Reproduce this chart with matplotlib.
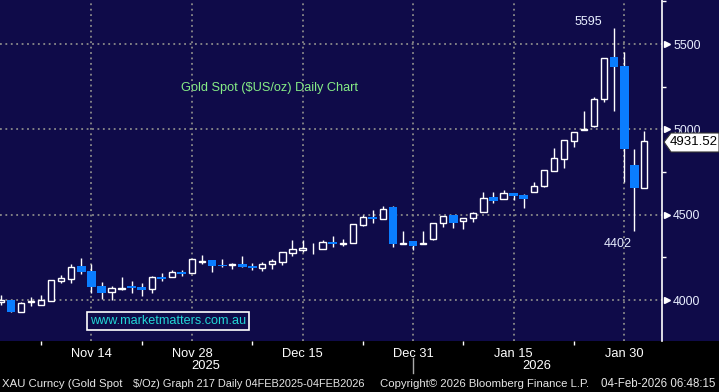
import numpy as np
import pandas as pd
import matplotlib
matplotlib.use("Agg")
import matplotlib.pyplot as plt
import matplotlib.transforms as mtransforms
from matplotlib.patches import Rectangle, Polygon

plt.rcParams['font.family'] = ['Liberation Sans', 'DejaVu Sans']

# trading days shown (gold spot, no bar on Christmas / New Year's Day)
dates = pd.bdate_range("2025-11-03", "2026-02-03")
dates = dates[~dates.isin(pd.to_datetime(["2025-12-25", "2026-01-01"]))]

opens = [3988, 4000, 3930, 3988, 3971, 3994, 4111, 4123, 4199, 4170,
         4082, 4047, 4065, 4082, 4076, 4065, 4135, 4135, 4164, 4158,
         4223, 4234, 4208, 4205, 4211, 4199, 4188, 4211, 4223, 4275,
         4296, 4307, 4299, 4340, 4331, 4334, 4440, 4486, 4475, 4545,
         4331, 4346, 4331, 4357, 4451, 4498, 4463, 4481, 4516, 4604,
         4592, 4627, 4615, 4633, 4668, 4756, 4826, 4932, 4999, 5020,
         5178, 5424, 5371, 4791, 4656]
highs = [4029, 4002, 3988, 4018, 4029, 4120, 4147, 4211, 4246, 4211,
         4106, 4082, 4135, 4111, 4100, 4141, 4158, 4176, 4176, 4242,
         4264, 4236, 4240, 4217, 4258, 4217, 4223, 4240, 4283, 4352,
         4352, 4334, 4352, 4375, 4357, 4447, 4498, 4527, 4551, 4551,
         4404, 4348, 4404, 4453, 4494, 4500, 4483, 4516, 4633, 4633,
         4645, 4629, 4621, 4691, 4764, 4891, 4940, 4986, 5107, 5189,
         5420, 5595, 5453, 4885, 4990]
lows = [3971, 3928, 3928, 3965, 3970, 3992, 4100, 4100, 4152, 4041,
        4006, 4000, 4059, 4041, 4024, 4041, 4111, 4133, 4141, 4156,
        4211, 4164, 4193, 4182, 4191, 4176, 4170, 4182, 4205, 4258,
        4281, 4270, 4297, 4311, 4317, 4332, 4434, 4451, 4473, 4311,
        4328, 4293, 4328, 4352, 4428, 4422, 4416, 4457, 4514, 4568,
        4590, 4586, 4539, 4631, 4662, 4754, 4773, 4897, 4997, 5014,
        5160, 5107, 4691, 4402, 4654]
closes = [4000, 3930, 3983, 3994, 4000, 4117, 4129, 4193, 4164, 4076,
          4041, 4070, 4070, 4070, 4059, 4135, 4123, 4164, 4152, 4240,
          4229, 4199, 4199, 4211, 4193, 4188, 4211, 4229, 4281, 4299,
          4302, 4302, 4340, 4328, 4337, 4445, 4486, 4475, 4533, 4328,
          4337, 4316, 4337, 4451, 4492, 4451, 4481, 4510, 4598, 4580,
          4627, 4609, 4592, 4668, 4762, 4832, 4938, 4984, 5005, 5178,
          5418, 5365, 4885, 4656, 4931.52]

tick_dates = ["2025-11-14", "2025-11-28", "2025-12-15", "2025-12-31", "2026-01-15", "2026-01-30"]
tick_labels = ["Nov 14", "Nov 28", "Dec 15", "Dec 31", "Jan 15", "Jan 30"]
minor_dates = ["2025-11-07", "2025-11-21", "2025-12-08", "2025-12-23", "2026-01-08", "2026-01-23"]
y_ticks = [4000, 4500, 5000, 5500]
y_minor = [4250, 4750, 5250, 5750]

navy = '#0f0b49'
blue = '#0a7dff'

o = np.array(opens, dtype=float)
h = np.array(highs, dtype=float)
l = np.array(lows, dtype=float)
c = np.array(closes, dtype=float)
x = np.arange(len(dates))
up = c >= o

fig = plt.figure(figsize=(7.19, 3.92), dpi=100, facecolor='black')
W, H = 719, 392
fig.patches.append(Rectangle((0, 1 - 341 / H), 1, 341 / H, transform=fig.transFigure,
                             facecolor=navy, edgecolor='none', zorder=-10))
ax = fig.add_axes([0, 1 - 341 / H, 662 / W, 341 / H])
ax.set_facecolor(navy)

# wicks then bodies
ax.vlines(x, l, h, color='white', linewidth=1, zorder=3)
ax.bar(x[up], np.maximum(c[up] - o[up], 2), bottom=o[up], width=0.62,
       facecolor=navy, edgecolor='white', linewidth=1, zorder=4)
ax.bar(x[~up], o[~up] - c[~up], bottom=c[~up], width=0.88,
       facecolor=blue, edgecolor='none', zorder=4)

ax.set_xlim(-0.1, 65.77)
ax.set_ylim(3760, 5758)

pos = {d: i for i, d in enumerate(dates.strftime("%Y-%m-%d"))}
major_x = [pos[d] for d in tick_dates]
minor_x = [pos[d] for d in minor_dates]
ax.set_xticks(major_x)
ax.set_xticklabels(tick_labels, color='white', fontsize=9.3)
ax.set_xticks(minor_x, minor=True)
ax.tick_params(axis='x', which='major', length=0, pad=5)
ax.tick_params(axis='x', which='minor', length=3, color='white', width=1, direction='out')

ax.yaxis.tick_right()
ax.set_yticks(y_ticks)
ax.set_yticklabels([str(v) for v in y_ticks], color='#e8eeff', fontsize=8.9)
ax.set_yticks(y_minor, minor=True)
ax.tick_params(axis='y', which='major', length=0, pad=8)
ax.tick_params(axis='y', which='minor', length=3, color='white', width=1, direction='out')

for s in ['top', 'left', 'bottom']:
    ax.spines[s].set_visible(False)
ax.spines['right'].set_color('white')
ax.spines['right'].set_linewidth(1.2)

ax.grid(True, which='major', color='#8a8a8a', linestyle=(0, (1, 2)), linewidth=1.3, zorder=1)
ax.set_axisbelow(True)

# arrow markers beside the y labels
tr = mtransforms.blended_transform_factory(ax.transAxes, ax.transData)
for v in y_ticks:
    ax.plot(1 + 5 / 662, v, marker='>', markersize=5, color='white', transform=tr, clip_on=False)

ax.text(181 / 662, 1 - 88 / 341, "Gold Spot ($US/oz) Daily Chart", transform=ax.transAxes,
        color='#86ec86', fontsize=9.2, va='center', ha='left')

ax.text(168 / 662, 1 - 321 / 341, "www.marketmatters.com.au", transform=ax.transAxes,
        color='#22d6d6', fontsize=9.1, va='center', ha='center',
        bbox=dict(facecolor=navy, edgecolor='white', linewidth=1.2, boxstyle='square,pad=0.2'))

hi_i = int(np.argmax(h))
lo_i = int(np.argmin(l[55:])) + 55
ax.text(hi_i - 2.6, h[hi_i] + 35, f"{h[hi_i]:.0f}", color='#e8eeff', fontsize=9, ha='center', va='center')
ax.text(lo_i - 1.6, l[lo_i] - 75, f"{l[lo_i]:.0f}", color='#e8eeff', fontsize=9, ha='center', va='center')

# year labels and separator
trf = mtransforms.blended_transform_factory(ax.transData, fig.transFigure)
ax.text(20.4, 1 - 366 / H, "2025", transform=trf, color='white', fontsize=9.3, ha='center', va='center')
ax.text(53.3, 1 - 366 / H, "2026", transform=trf, color='white', fontsize=9.3, ha='center', va='center')
ax.plot([pos["2025-12-31"]] * 2, [1 - 358 / H, 1 - 373 / H], transform=trf, color='#aaaaaa',
        linewidth=1, clip_on=False)

# last price tag
ylast = 142
tag = Polygon([(664 / W, 1 - ylast / H), (671 / W, 1 - 133 / H), (719 / W, 1 - 133 / H),
               (719 / W, 1 - 152 / H), (671 / W, 1 - 152 / H)], closed=True,
              transform=fig.transFigure, facecolor='white', edgecolor='#333333', linewidth=0.8,
              zorder=5)
fig.patches.append(tag)
fig.text(694 / W, 1 - ylast / H, f"{c[-1]:.2f}", color='black', fontsize=9.5, ha='center', va='center',
         zorder=6)

# footer
footer = [(2, "XAU Curncy (Gold Spot", 8.2),
          (133, "$/Oz) Graph 217 Daily 04FEB2025-04FEB2026", 7.9),
          (380, "Copyright\u00a9 2026 Bloomberg Finance L.P.", 8.2),
          (601, "04-Feb-2026 06:48:15", 8.3)]
for px, s, fs in footer:
    fig.text(px / W, 1 - 384 / H, s, color='#e6e6e6', fontsize=fs, ha='left', va='center')

fig.savefig("out.png", dpi=100, facecolor='black')
